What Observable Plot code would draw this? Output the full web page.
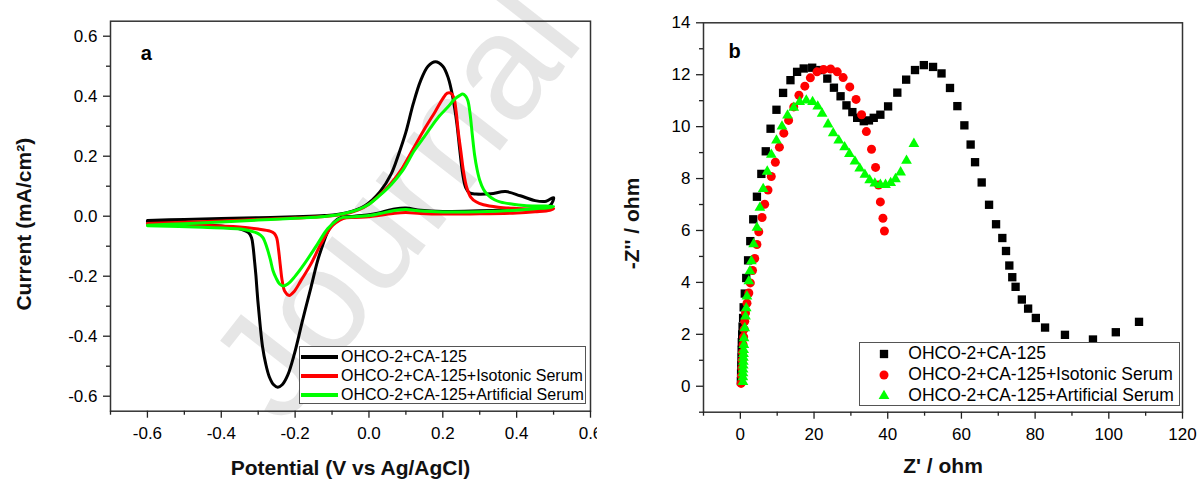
<!DOCTYPE html>
<html><head><meta charset="utf-8">
<script src="https://cdn.jsdelivr.net/npm/d3@7"></script>
<script src="https://cdn.jsdelivr.net/npm/@observablehq/plot@0.6"></script>
<style>
html,body{margin:0;padding:0;background:#fff;}
#wrap{position:relative;width:1197px;height:479px;overflow:hidden;font-family:"Liberation Sans",Arial,sans-serif;}
#pa{position:absolute;left:0;top:0;}
#pb{position:absolute;left:600px;top:0;}
.legend{position:absolute;background:#fff;border:1px solid #555;box-sizing:border-box;color:#000;z-index:5;}
.legend .row{display:flex;align-items:center;white-space:nowrap;}
</style></head>
<body><div id="wrap"><div id="pa"></div><div id="pb"></div></div>
<script>
// ---------- data ----------
const seriesNames = ["OHCO-2+CA-125", "OHCO-2+CA-125+Isotonic Serum", "OHCO-2+CA-125+Artificial Serum"];
const seriesColors = ["#000000", "#ff0000", "#00ff00"];
const seriesSymbols = ["square", "circle", "triangle"];

// Panel a: cyclic voltammograms [potential V, current mA/cm2], in sweep order
const cvBlack = [[-0.60,-0.014],[-0.50,-0.011],[-0.40,-0.008],[-0.30,-0.005],[-0.20,-0.002],[-0.12,0.002],[-0.06,0.012],[-0.01,0.036],[0.03,0.082],[0.06,0.140],[0.08,0.205],[0.10,0.280],[0.12,0.375],[0.14,0.452],[0.16,0.500],[0.18,0.515],[0.20,0.500],[0.215,0.460],[0.228,0.390],[0.238,0.310],[0.246,0.220],[0.254,0.140],[0.262,0.095],[0.272,0.078],[0.29,0.074],[0.33,0.075],[0.37,0.082],[0.41,0.068],[0.45,0.052],[0.48,0.050],[0.50,0.062],
  [0.49,0.035],[0.45,0.025],[0.40,0.022],[0.30,0.018],[0.20,0.016],[0.14,0.020],[0.10,0.027],[0.07,0.024],[0.03,0.012],[0.00,0.005],[-0.04,0.000],[-0.076,-0.004],[-0.095,-0.020],[-0.112,-0.053],[-0.125,-0.095],[-0.139,-0.148],[-0.157,-0.237],[-0.18,-0.348],[-0.202,-0.459],[-0.22,-0.530],[-0.235,-0.562],[-0.247,-0.570],[-0.258,-0.562],[-0.27,-0.535],[-0.28,-0.490],[-0.288,-0.437],[-0.295,-0.360],[-0.301,-0.281],[-0.306,-0.200],[-0.31,-0.148],[-0.314,-0.100],[-0.318,-0.072],[-0.326,-0.055],[-0.34,-0.046],[-0.374,-0.037],[-0.45,-0.028],[-0.53,-0.022],[-0.60,-0.018]];
const cvRed = [[-0.60,-0.024],[-0.50,-0.020],[-0.40,-0.016],[-0.30,-0.011],[-0.20,-0.006],[-0.12,-0.001],[-0.07,0.006],[-0.03,0.020],[0.00,0.040],[0.03,0.072],[0.06,0.110],[0.09,0.160],[0.12,0.225],[0.15,0.290],[0.18,0.350],[0.20,0.392],[0.212,0.410],[0.222,0.410],[0.230,0.395],[0.236,0.350],[0.242,0.280],[0.249,0.215],[0.256,0.150],[0.265,0.095],[0.276,0.063],[0.29,0.048],[0.31,0.038],[0.35,0.030],[0.40,0.026],[0.45,0.024],[0.50,0.026],
  [0.49,0.020],[0.45,0.015],[0.40,0.011],[0.30,0.008],[0.20,0.007],[0.14,0.009],[0.10,0.012],[0.07,0.010],[0.03,0.003],[0.00,-0.002],[-0.04,-0.004],[-0.07,-0.008],[-0.09,-0.022],[-0.103,-0.037],[-0.13,-0.092],[-0.157,-0.159],[-0.184,-0.214],[-0.202,-0.250],[-0.216,-0.264],[-0.228,-0.250],[-0.235,-0.215],[-0.240,-0.165],[-0.245,-0.110],[-0.250,-0.072],[-0.256,-0.058],[-0.268,-0.050],[-0.30,-0.043],[-0.35,-0.036],[-0.45,-0.030],[-0.60,-0.026]];
const cvGreen = [[-0.60,-0.030],[-0.50,-0.025],[-0.40,-0.019],[-0.30,-0.013],[-0.20,-0.007],[-0.12,-0.001],[-0.07,0.008],[-0.03,0.022],[0.00,0.040],[0.03,0.070],[0.06,0.105],[0.09,0.150],[0.123,0.219],[0.15,0.265],[0.168,0.297],[0.19,0.333],[0.213,0.363],[0.232,0.390],[0.245,0.402],[0.254,0.407],[0.262,0.400],[0.268,0.385],[0.274,0.340],[0.28,0.270],[0.286,0.205],[0.293,0.155],[0.30,0.120],[0.31,0.090],[0.321,0.072],[0.34,0.055],[0.357,0.047],[0.39,0.040],[0.42,0.036],[0.46,0.034],[0.50,0.033],
  [0.49,0.029],[0.45,0.025],[0.40,0.020],[0.30,0.015],[0.20,0.014],[0.14,0.017],[0.10,0.022],[0.07,0.019],[0.03,0.009],[0.00,0.002],[-0.04,-0.002],[-0.07,-0.004],[-0.085,-0.012],[-0.112,-0.042],[-0.139,-0.092],[-0.175,-0.159],[-0.202,-0.203],[-0.22,-0.226],[-0.232,-0.233],[-0.242,-0.226],[-0.252,-0.205],[-0.26,-0.181],[-0.267,-0.145],[-0.274,-0.114],[-0.281,-0.088],[-0.288,-0.070],[-0.30,-0.058],[-0.31,-0.053],[-0.347,-0.043],[-0.45,-0.037],[-0.60,-0.032]];

// Panel b: Nyquist plots [Z' ohm, -Z'' ohm]
const eisBlack = [[0.15,0.2],[0.2,0.5],[0.25,0.8],[0.3,1.1],[0.35,1.4],[0.4,1.7],[0.5,2.0],[0.6,2.3],[0.75,2.63],[0.9,3.04],[1.2,3.57],[1.6,4.17],[2.1,4.85],[2.7,5.59],[3.5,6.43],[4.5,7.3],[5.7,8.18],[6.9,9.05],[8.2,9.92],[9.8,10.65],[11.6,11.3],[13.6,11.79],[15.4,12.11],[17.2,12.24],[19.5,12.27],[21.7,12.18],[23.6,11.85],[25.4,11.5],[27.2,11.17],[28.8,10.82],[30.4,10.56],[31.7,10.34],[33.5,10.21],[34.9,10.24],[36.2,10.34],[38.0,10.46],[40.1,10.78],[42.6,11.31],[45.0,11.81],[47.4,12.18],[49.8,12.37],[52.3,12.3],[54.6,12.05],[56.9,11.49],[58.9,10.79],[60.8,10.05],[62.5,9.31],[63.7,8.63],[65.5,7.85],[67.5,6.99],[69.4,6.24],[71.1,5.71],[72.1,5.21],[73.0,4.65],[73.8,4.2],[74.7,3.83],[76.4,3.34],[78.1,2.99],[80.2,2.63],[82.7,2.26],[88.1,1.98],[95.7,1.8],[101.9,2.08],[108.2,2.48]];
const eisRed = [[0.2,0.11],[0.3,0.4],[0.4,0.7],[0.5,1.0],[0.6,1.3],[0.75,1.6],[0.9,1.9],[1.05,2.2],[1.2,2.5],[1.4,2.82],[1.8,3.2],[2.3,3.59],[2.7,3.98],[3.3,4.46],[3.9,4.92],[4.5,5.46],[5.0,5.95],[5.9,6.5],[6.6,7.01],[7.5,7.56],[8.4,8.08],[9.5,8.63],[10.6,9.21],[11.8,9.75],[13.1,10.24],[14.5,10.76],[15.9,11.21],[17.5,11.56],[19.0,11.88],[20.8,12.11],[22.6,12.2],[24.5,12.22],[26.3,12.11],[27.9,11.89],[29.7,11.53],[31.4,11.05],[32.9,10.46],[34.2,9.81],[35.6,9.13],[36.7,8.43],[37.5,7.75],[38.0,7.1],[38.7,6.47],[39.1,5.98]];
const eisGreen = [[0.7,0.17],[0.7,0.35],[0.72,0.5],[0.75,0.65],[0.78,0.8],[0.8,0.95],[0.83,1.1],[0.86,1.25],[0.9,1.4],[0.95,1.59],[1.0,1.85],[1.2,2.24],[1.4,2.69],[1.6,3.01],[1.8,3.46],[2.3,4.05],[2.6,4.43],[3.0,4.82],[3.6,5.47],[4.5,6.11],[5.3,6.88],[6.2,7.6],[7.3,8.27],[8.4,8.92],[9.8,9.47],[11.3,10.01],[12.8,10.43],[14.5,10.73],[16.1,10.95],[17.9,11.01],[19.6,10.95],[21.0,10.78],[22.2,10.5],[23.8,10.09],[25.2,9.75],[26.7,9.47],[28.3,9.21],[29.6,8.95],[31.1,8.66],[32.4,8.39],[33.8,8.15],[35.1,7.94],[36.5,7.81],[38.0,7.76],[39.4,7.76],[40.8,7.83],[42.1,7.98],[43.5,8.24],[45.1,8.69],[47.1,9.34]];

// ticks and texts
const cvXTicks = [-0.6,-0.4,-0.2,0,0.2,0.4,0.6];
const cvXMinor = [-0.7,-0.5,-0.3,-0.1,0.1,0.3,0.5];
const cvYTicks = [-0.6,-0.4,-0.2,0,0.2,0.4,0.6];
const cvYMinor = [-0.5,-0.3,-0.1,0.1,0.3,0.5];
const eisXTicks = [0,20,40,60,80,100,120];
const eisXMinor = [-10,10,30,50,70,90,110];
const eisYTicks = [0,2,4,6,8,10,12,14];
const eisYMinor = [-1,1,3,5,7,9,11,13];
const cvXLabel = "Potential (V vs Ag/AgCl)";
const cvYLabel = "Current (mA/cm²)";
const eisXLabel = "Z' / ohm";
const eisYLabel = "-Z'' / ohm";
const panelLabels = ["a", "b"];
const watermarkText = "Journal Pre-proof";

// ---------- helpers ----------
const rows = (pts) => pts.map(([x, y]) => ({x, y}));
const FONT = "'Liberation Sans', Arial, sans-serif";
const baseStyle = {fontFamily: FONT, fontSize: "17px", color: "#222", background: "transparent", overflow: "hidden"};
const axisMarks = (xt, xm, yt, ym, fmt) => [
  Plot.frame({stroke: "#333", strokeWidth: 1.5}),
  Plot.axisX({ticks: xt, tickSize: 7, tickPadding: 9, tickFormat: fmt, label: null, strokeWidth: 1.3, fill: "#000"}),
  Plot.axisX({ticks: xm, tickSize: 4, tickFormat: () => "", label: null, strokeWidth: 1.3}),
  Plot.axisY({ticks: yt, tickSize: 7, tickPadding: 6, tickFormat: fmt, label: null, strokeWidth: 1.3, fill: "#000"}),
  Plot.axisY({ticks: ym, tickSize: 4, tickFormat: () => "", label: null, strokeWidth: 1.3})
];

// ---------- panel a ----------
const cvSeries = [cvBlack, cvRed, cvGreen];
const pa = Plot.plot({
  width: 597, height: 479,
  marginLeft: 110, marginRight: 7, marginTop: 20.7, marginBottom: 68.3,
  x: {domain: [-0.7, 0.6]},
  y: {domain: [-0.65, 0.65]},
  style: baseStyle,
  marks: [
    ...cvSeries.map((s, i) => Plot.line(rows(s), {x: "x", y: "y", stroke: seriesColors[i], strokeWidth: 3, curve: "catmull-rom"})),
    ...axisMarks(cvXTicks, cvXMinor, cvYTicks, cvYMinor, d => d.toFixed(1)),
    Plot.text([cvXLabel], {frameAnchor: "bottom", lineAnchor: "middle", textAnchor: "middle", dy: 57, fontSize: 21, fontWeight: "bold", fill: "#111"}),
    Plot.text([cvYLabel], {frameAnchor: "left", lineAnchor: "middle", textAnchor: "middle", rotate: -90, dx: -86, dy: 8, fontSize: 21, fontWeight: "bold", fill: "#111"}),
    Plot.text([panelLabels[0]], {frameAnchor: "top-left", lineAnchor: "middle", textAnchor: "middle", dx: 35.7, dy: 32.2, fontSize: 20, fontWeight: "bold", fill: "#000"})
  ]
});
// faint watermark behind panel a
d3.select(pa).insert("text", ":first-child")
  .attr("transform", "translate(283,428) rotate(-52)")
  .attr("text-anchor", "start")
  .attr("font-family", FONT).attr("font-size", 150).attr("fill", "#e6e6e6")
  .text(watermarkText);
document.getElementById("pa").appendChild(pa);

// ---------- panel b ----------
const eisSeries = [eisBlack, eisRed, eisGreen];
const eisR = [4.7, 4.5, 4.0];
const pb = Plot.plot({
  width: 597, height: 479,
  marginLeft: 103, marginRight: 15, marginTop: 22.3, marginBottom: 67.3,
  x: {domain: [-10, 120]},
  y: {domain: [-1, 14]},
  style: baseStyle,
  marks: [
    ...eisSeries.map((s, i) => Plot.dot(rows(s), {x: "x", y: "y", symbol: seriesSymbols[i], fill: seriesColors[i], r: eisR[i]})),
    ...axisMarks(eisXTicks, eisXMinor, eisYTicks, eisYMinor, d => String(d)),
    Plot.text([eisXLabel], {frameAnchor: "bottom", lineAnchor: "middle", textAnchor: "middle", dy: 54, fontSize: 21, fontWeight: "bold", fill: "#111"}),
    Plot.text([eisYLabel], {frameAnchor: "left", lineAnchor: "middle", textAnchor: "middle", rotate: -90, dx: -71, dy: 6, fontSize: 21, fontWeight: "bold", fill: "#111"}),
    Plot.text([panelLabels[1]], {frameAnchor: "top-left", lineAnchor: "middle", textAnchor: "middle", dx: 31, dy: 28.6, fontSize: 20, fontWeight: "bold", fill: "#000"})
  ]
});
document.getElementById("pb").appendChild(pb);

// ---------- legends ----------
const wrap = document.getElementById("wrap");
function legendA() {
  const box = document.createElement("div");
  box.className = "legend";
  Object.assign(box.style, {left: "299px", top: "346px", width: "287px", height: "58px", fontSize: "16px"});
  seriesNames.forEach((name, i) => {
    const row = document.createElement("div");
    row.className = "row";
    row.style.height = "19px";
    const sw = document.createElement("span");
    Object.assign(sw.style, {display: "inline-block", width: "37px", height: "4px", marginLeft: "1px", background: seriesColors[i]});
    const t = document.createElement("span");
    t.textContent = name;
    t.style.marginLeft = "3px";
    row.append(sw, t);
    box.appendChild(row);
  });
  wrap.appendChild(box);
}
function legendB() {
  const box = document.createElement("div");
  box.className = "legend";
  Object.assign(box.style, {left: "859px", top: "342px", width: "321px", height: "64px", fontSize: "17.5px"});
  const symMap = {square: d3.symbolSquare, circle: d3.symbolCircle, triangle: d3.symbolTriangle};
  seriesNames.forEach((name, i) => {
    const row = document.createElement("div");
    row.className = "row";
    row.style.height = "21px";
    const ns = "http://www.w3.org/2000/svg";
    const svg = document.createElementNS(ns, "svg");
    svg.setAttribute("width", 14); svg.setAttribute("height", 14);
    svg.style.marginLeft = "16.7px";
    const p = document.createElementNS(ns, "path");
    p.setAttribute("d", d3.symbol(symMap[seriesSymbols[i]], eisR[i] * eisR[i] * Math.PI)());
    p.setAttribute("transform", "translate(7,7)");
    p.setAttribute("fill", seriesColors[i]);
    svg.appendChild(p);
    const t = document.createElement("span");
    t.textContent = name;
    t.style.marginLeft = "17.6px";
    row.append(svg, t);
    box.appendChild(row);
  });
  wrap.appendChild(box);
}
legendA();
legendB();
</script></body></html>
